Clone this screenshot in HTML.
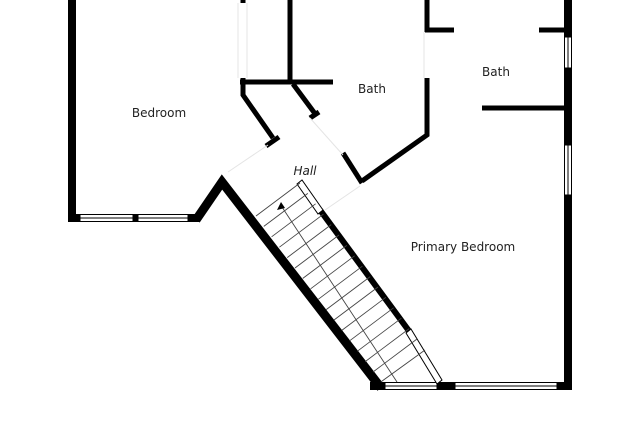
<!DOCTYPE html>
<html><head><meta charset="utf-8"><style>
html,body{margin:0;padding:0;background:#fff}
svg{display:block}
text{font-family:"DejaVu Sans","Liberation Sans",sans-serif;font-size:12px;fill:#222}
</style></head><body>
<svg width="640" height="425" viewBox="0 0 640 425">
<rect width="640" height="425" fill="#fff"/>
<g stroke="#000" fill="none" stroke-linecap="butt">
<!-- left wall -->
<line x1="72" y1="0" x2="72" y2="222" stroke-width="8"/>
<!-- bedroom bottom wall blocks -->
<rect x="68" y="214" width="12" height="8" fill="#000" stroke="none"/>
<rect x="133" y="214" width="5" height="8" fill="#000" stroke="none"/>
<rect x="188" y="214" width="12" height="8" fill="#000" stroke="none"/>
<!-- windows bottom left -->
<g stroke-width="1">
<rect x="80" y="214.5" width="53" height="7"/><line x1="80" y1="218" x2="133" y2="218"/>
<rect x="138" y="214.5" width="50" height="7"/><line x1="138" y1="218" x2="188" y2="218"/>
</g>
<!-- diagonal up to stair -->
<polyline points="196,220 222,182 381,388" stroke-width="9" stroke-linejoin="miter"/>
<!-- bottom wall -->
<rect x="370" y="382" width="15" height="8" fill="#000" stroke="none"/>
<rect x="437" y="382" width="18" height="8" fill="#000" stroke="none"/>
<rect x="557" y="382" width="15" height="8" fill="#000" stroke="none"/>
<g stroke-width="1">
<rect x="385" y="382.5" width="52" height="7"/><line x1="385" y1="386" x2="437" y2="386"/>
<rect x="455" y="382.5" width="102" height="7"/><line x1="455" y1="386" x2="557" y2="386"/>
</g>
<!-- right wall -->
<line x1="568" y1="0" x2="568" y2="37" stroke-width="8"/>
<line x1="568" y1="68" x2="568" y2="145" stroke-width="8"/>
<line x1="568" y1="195" x2="568" y2="390" stroke-width="8"/>
<g stroke-width="1">
<rect x="564.5" y="37" width="7" height="31"/><line x1="568" y1="37" x2="568" y2="68"/>
<rect x="564.5" y="145" width="7" height="50"/><line x1="568" y1="145" x2="568" y2="195"/>
</g>
<!-- inner walls -->
<line x1="243" y1="0" x2="243" y2="3" stroke-width="5"/>
<line x1="240" y1="82" x2="333" y2="82" stroke-width="5"/>
<line x1="290" y1="0" x2="290" y2="82" stroke-width="5"/>
<polyline points="243,78 243,95 273,138" stroke-width="5"/>
<line x1="266" y1="146" x2="279" y2="137" stroke-width="5"/>
<polyline points="293,84 316,115" stroke-width="5"/>
<line x1="310" y1="118" x2="319" y2="112" stroke-width="5"/>
<line x1="427" y1="0" x2="427" y2="32" stroke-width="5"/>
<line x1="425" y1="30" x2="454" y2="30" stroke-width="5"/>
<line x1="539" y1="30" x2="566" y2="30" stroke-width="5"/>
<polyline points="427,78 427,135 362,181" stroke-width="5"/>
<line x1="343" y1="153" x2="362" y2="183" stroke-width="5"/>
<line x1="482" y1="108" x2="566" y2="108" stroke-width="5"/>
<!-- faint door lines -->
<g stroke="#e4e4e4" stroke-width="1">
<line x1="238" y1="3" x2="238" y2="78"/><line x1="247" y1="3" x2="247" y2="78"/>
<line x1="424" y1="32" x2="424" y2="78"/>
<line x1="228" y1="172" x2="268" y2="145"/><line x1="310" y1="118" x2="343" y2="155"/>
<line x1="325" y1="210" x2="360" y2="186"/>
</g>
<!-- stair right wall -->
<line x1="320" y1="210" x2="409" y2="331" stroke-width="6"/>
<!-- railings -->
<g stroke-width="1" fill="#fff">
<polygon points="297,184 302,180 323,210 318,214"/>
<polygon points="406,333 411,329 442,380 437,384"/>
</g>
<!-- treads -->
<g stroke="#444" stroke-width="0.9">
<line x1="256" y1="216" x2="300" y2="183"/>
<line x1="263.8" y1="226.4" x2="307.8" y2="193.4"/>
<line x1="271.6" y1="236.8" x2="315.6" y2="203.8"/>
<line x1="279.4" y1="247.2" x2="323.4" y2="214.2"/>
<line x1="287.2" y1="257.6" x2="331.2" y2="224.6"/>
<line x1="295" y1="268" x2="339" y2="235"/>
<line x1="302.8" y1="278.4" x2="346.8" y2="245.4"/>
<line x1="310.6" y1="288.8" x2="354.6" y2="255.8"/>
<line x1="318.4" y1="299.2" x2="362.4" y2="266.2"/>
<line x1="326.2" y1="309.6" x2="370.2" y2="276.6"/>
<line x1="334" y1="320" x2="378" y2="287"/>
<line x1="341.8" y1="330.4" x2="385.8" y2="297.4"/>
<line x1="349.6" y1="340.8" x2="393.6" y2="307.8"/>
<line x1="357.4" y1="351.2" x2="401.4" y2="318.2"/>
<line x1="365.2" y1="361.6" x2="409.2" y2="328.6"/>
<line x1="373" y1="372" x2="417" y2="339"/>
<line x1="380.8" y1="382" x2="425" y2="350"/>
<line x1="282" y1="207" x2="397" y2="382"/>
</g>
<polygon points="281,202 277,210 285,208" fill="#000" stroke="none"/>
</g>
<text x="159" y="117" text-anchor="middle">Bedroom</text>
<text x="372" y="93" text-anchor="middle">Bath</text>
<text x="496" y="76" text-anchor="middle">Bath</text>
<text x="305" y="175" text-anchor="middle" font-style="italic">Hall</text>
<text x="463" y="251" text-anchor="middle">Primary Bedroom</text>
</svg>
</body></html>
